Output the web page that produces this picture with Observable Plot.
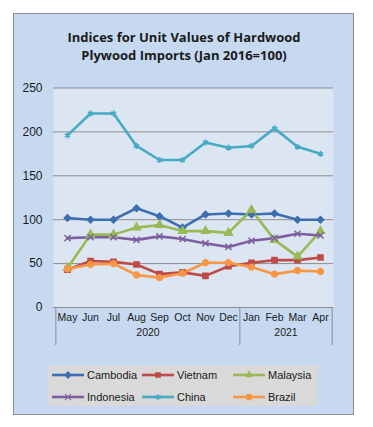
<!DOCTYPE html>
<html>
<head>
<meta charset="utf-8">
<script src="https://cdn.jsdelivr.net/npm/d3@7"></script>
<script src="https://cdn.jsdelivr.net/npm/@observablehq/plot@0.6"></script>
<style>
  html, body { margin: 0; padding: 0; background: #fff; }
  #page { position: relative; width: 373px; height: 427px; overflow: hidden; }
  #box { position: absolute; left: 13px; top: 13px; width: 339px; height: 400px;
         background: #c6d9f1; border: 1.5px solid #8c8c8c; }
  #title { position: absolute; left: 13px; width: 342px; top: 28px; text-align: center;
           font-family: "Open Sans", sans-serif; font-weight: 700; font-size: 13px;
           line-height: 18px; color: #1a1a1a; }
  #chart { position: absolute; left: 0; top: 0; }
  #legend { position: absolute; left: 47px; top: 365px; width: 271px; height: 41px;
            background: #d9d9d9; font-family: "Liberation Sans", Arial, sans-serif;
            font-size: 11px; color: #1a1a1a; }
  .item { position: absolute; display: flex; align-items: center; height: 14px; }
  .item svg { margin-right: 3px; }
</style>
</head>
<body>
<div id="page">
  <div id="box"></div>
  <div id="title">Indices for Unit Values of Hardwood<br>Plywood Imports (Jan 2016=100)</div>
  <div id="chart"></div>
  <div id="legend"></div>
</div>
<script>
const months = ["May","Jun","Jul","Aug","Sep","Oct","Nov","Dec","Jan","Feb","Mar","Apr"];
const years = ["2020","2021"];
const yearSpans = [["May","Dec"],["Jan","Apr"]];
const yTicks = [0,50,100,150,200,250];
const seriesNames = ["Cambodia","Vietnam","Malaysia","Indonesia","China","Brazil"];
const cambodia  = [102,100,100,113,104,91,106,107,106,107,100,100];
const vietnam   = [43,53,52,49,38,40,36,47,51,54,54,57];
const malaysia  = [45,83,83,91,94,87,87,85,111,77,58,87];
const indonesia = [79,80,80,77,81,78,73,69,76,79,84,82];
const china     = [196,221,221,184,168,168,188,182,184,204,183,175];
const brazil    = [44,49,50,37,34,39,51,51,46,38,42,41];

const colors = ["#3d6fb0","#be4b48","#98b954","#7d5fa0","#46aac5","#f79646"];
const symbols = ["diamond2","square","triangle","times","asterisk","circle"];
const allValues = [cambodia, vietnam, malaysia, indonesia, china, brazil];

const data = [];
seriesNames.forEach((s, i) => months.forEach((m, j) => data.push({series: s, month: m, value: allValues[i][j]})));

const W = 373, H = 360;
const mL = 53, mR = 40, mT = 87.5, mB = 53;
const step = (W - mL - mR) / months.length;

const seps = [
  {month: "May", side: -1},
  {month: "Jan", side: -1},
  {month: "Apr", side: 1}
];
const yearLabels = years.map((y, i) => ({year: y, a: yearSpans[i][0], b: yearSpans[i][1]}));

const chart = Plot.plot({
  width: W, height: H,
  marginLeft: mL, marginRight: mR, marginTop: mT, marginBottom: mB,
  style: {background: "transparent", fontFamily: "Liberation Sans, Arial, sans-serif", fontSize: "11px", color: "#1a1a1a"},
  x: {type: "point", domain: months, padding: 0.5, axis: null, label: null},
  y: {domain: [0, 250], axis: null, label: null},
  color: {domain: seriesNames, range: colors},
  symbol: {domain: seriesNames, range: symbols},
  marks: [
    Plot.frame({fill: "#dce6f2", stroke: "none"}),
    Plot.ruleY(yTicks.filter(d => d > 0), {stroke: "#8c8c8c", strokeWidth: 1}),
    Plot.ruleY([0], {stroke: "#8c8c8c", strokeWidth: 1}),
    Plot.ruleX(seps, {x: "month", y1: 0, y2: 0, insetBottom: -38, stroke: "#8c8c8c", strokeWidth: 1,
      render: (index, scales, values, dims, context, next) => {
        const g = next(index, scales, values, dims, context);
        d3.select(g).selectAll("line").each(function(_, k) {
          const s = seps[index[k]].side * step / 2;
          const x = +this.getAttribute("x1") + s;
          this.setAttribute("x1", x); this.setAttribute("x2", x);
        });
        return g;
      }}),
    Plot.axisY(yTicks, {tickSize: 0, tickPadding: 11, fontSize: 12, fill: "#1a1a1a", label: null}),
    Plot.axisX(months, {tickSize: 0, tickPadding: 6, fontSize: 10.5, fill: "#1a1a1a", label: null}),
    Plot.text(yearLabels, {x: "a", text: "year", frameAnchor: "bottom", dy: 28, fontSize: 10.5, fill: "#1a1a1a",
      render: (index, scales, values, dims, context, next) => {
        const g = next(index, scales, values, dims, context);
        d3.select(g).selectAll("text").each(function(_, k) {
          const d = yearLabels[index[k]];
          const xa = scales.x(d.a), xb = scales.x(d.b);
          const t = this.getAttribute("transform") || "";
          const m = /translate\(([^,]+),([^)]+)\)/.exec(t);
          if (m) this.setAttribute("transform", `translate(${(xa + xb) / 2},${m[2]})`);
        });
        return g;
      }}),
    Plot.line(data, {x: "month", y: "value", z: "series", stroke: "series", strokeWidth: 2.6, curve: "linear"}),
    Plot.dot(data, {x: "month", y: "value", symbol: "series", fill: "series", stroke: "series", r: 2.9, strokeWidth: 1.5})
  ]
});
document.getElementById("chart").appendChild(chart);

// legend
const legend = d3.select("#legend");
const colX = [5, 95, 186];
const rowY = [3, 25];
const symMap = {diamond2: d3.symbolDiamond2, square: d3.symbolSquare2, triangle: d3.symbolTriangle2,
                times: d3.symbolTimes, asterisk: d3.symbolAsterisk, circle: d3.symbolCircle};
seriesNames.forEach((s, i) => {
  const item = legend.append("div").attr("class", "item")
    .style("left", colX[i % 3] + "px").style("top", rowY[Math.floor(i / 3)] + "px");
  const svg = item.append("svg").attr("width", 32).attr("height", 14);
  svg.append("line").attr("x1", 0).attr("x2", 32).attr("y1", 7).attr("y2", 7)
    .attr("stroke", colors[i]).attr("stroke-width", 2.6);
  svg.append("path").attr("transform", "translate(16,7)")
    .attr("d", d3.symbol(symMap[symbols[i]], 24)())
    .attr("fill", colors[i]).attr("stroke", colors[i]).attr("stroke-width", 1.2);
  item.append("span").text(s);
});
</script>
</body>
</html>
